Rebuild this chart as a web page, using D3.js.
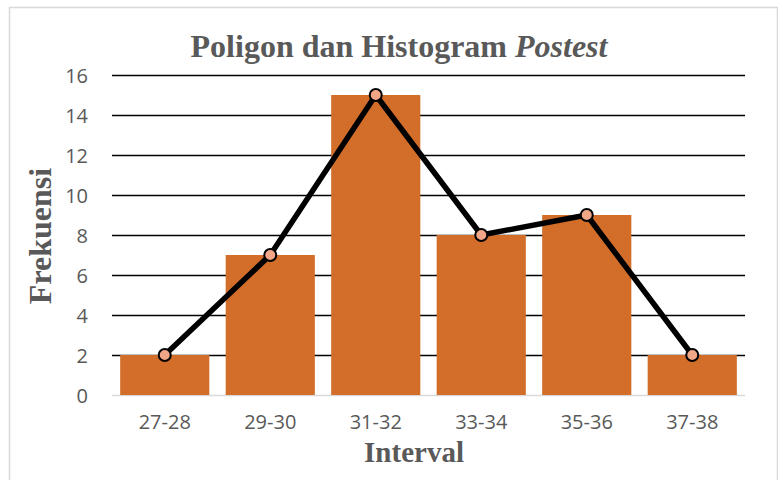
<!DOCTYPE html>
<html>
<head>
<meta charset="utf-8">
<script src="https://cdn.jsdelivr.net/npm/d3@7"></script>
<style>
  body { margin: 0; background: #fff; }
  svg { display: block; }
</style>
</head>
<body>
<div id="app"></div>
<script>
const categories = ['27-28', '29-30', '31-32', '33-34', '35-36', '37-38'];
const frequencies = [2, 7, 15, 8, 9, 2];
const yTicks = [0, 2, 4, 6, 8, 10, 12, 14, 16];

const render = () => {
  const width = 778;
  const height = 480;
  const plot = { left: 112, right: 745, top: 75, bottom: 395 };

  const svg = d3.select('#app')
    .append('svg')
    .attr('width', width)
    .attr('height', height);

  // chart border
  svg.append('rect')
    .attr('x', 9.5)
    .attr('y', 7.5)
    .attr('width', width - 10)
    .attr('height', height)
    .attr('fill', '#fff')
    .attr('stroke', '#d9d9d9')
    .attr('stroke-width', 1.5);

  const x = d3.scaleBand()
    .domain(categories)
    .range([plot.left, plot.right])
    .paddingInner(0.155)
    .paddingOuter(0.0775);

  const y = d3.scaleLinear()
    .domain([0, 16])
    .range([plot.bottom, plot.top]);

  // 1. gridlines + y axis labels
  const yAxis = d3.axisLeft(y)
    .tickValues(yTicks)
    .tickSize(-(plot.right - plot.left))
    .tickPadding(24);

  const gy = svg.append('g')
    .attr('transform', `translate(${plot.left}, 0)`)
    .call(yAxis);
  gy.select('.domain').remove();
  gy.selectAll('.tick line')
    .attr('stroke', d => d === 0 ? '#d9d9d9' : '#000')
    .attr('stroke-width', 1.5);
  gy.selectAll('.tick text')
    .attr('fill', '#595959')
    .attr('font-family', 'Open Sans, sans-serif')
    .attr('font-size', 20)
    .attr('dy', '0.36em');

  // 2. bars
  svg.append('g')
    .selectAll('rect')
    .data(frequencies)
    .enter()
      .append('rect')
      .attr('x', (d, i) => x(categories[i]))
      .attr('y', d => y(d))
      .attr('width', x.bandwidth())
      .attr('height', d => y(0) - y(d))
      .attr('fill', '#d26d2a');

  // 3. x axis labels
  const xAxis = d3.axisBottom(x).tickSize(0).tickPadding(20);
  const gx = svg.append('g')
    .attr('transform', `translate(0, ${plot.bottom})`)
    .call(xAxis);
  gx.select('.domain').remove();
  gx.selectAll('.tick text')
    .attr('fill', '#595959')
    .attr('font-family', 'Open Sans, sans-serif')
    .attr('font-size', 20);

  // 4. polygon line
  const cx = c => x(c) + x.bandwidth() / 2;
  const line = d3.line()
    .x((d, i) => cx(categories[i]))
    .y(d => y(d));

  svg.append('path')
    .datum(frequencies)
    .attr('d', line)
    .attr('fill', 'none')
    .attr('stroke', '#000')
    .attr('stroke-width', 5.5)
    .attr('stroke-linejoin', 'round');

  svg.append('g')
    .selectAll('circle')
    .data(frequencies)
    .enter()
      .append('circle')
      .attr('cx', (d, i) => cx(categories[i]))
      .attr('cy', d => y(d))
      .attr('r', 6)
      .attr('fill', '#f2a688')
      .attr('stroke', '#000')
      .attr('stroke-width', 2);

  // 5. titles
  const title = svg.append('text')
    .attr('x', 399)
    .attr('y', 57)
    .attr('text-anchor', 'middle')
    .attr('fill', '#595959')
    .attr('font-family', 'Liberation Serif, serif')
    .attr('font-weight', 'bold')
    .attr('font-size', 32);
  title.append('tspan').text('Poligon dan Histogram ');
  title.append('tspan').attr('font-style', 'italic').text('Postest');

  svg.append('text')
    .attr('x', 414)
    .attr('y', 462)
    .attr('text-anchor', 'middle')
    .attr('fill', '#595959')
    .attr('font-family', 'Liberation Serif, serif')
    .attr('font-weight', 'bold')
    .attr('font-size', 29)
    .text('Interval');

  svg.append('text')
    .attr('transform', 'translate(51, 236) rotate(-90)')
    .attr('text-anchor', 'middle')
    .attr('fill', '#595959')
    .attr('font-family', 'Liberation Serif, serif')
    .attr('font-weight', 'bold')
    .attr('font-size', 32)
    .text('Frekuensi');
};

document.addEventListener('DOMContentLoaded', render);
</script>
</body>
</html>
